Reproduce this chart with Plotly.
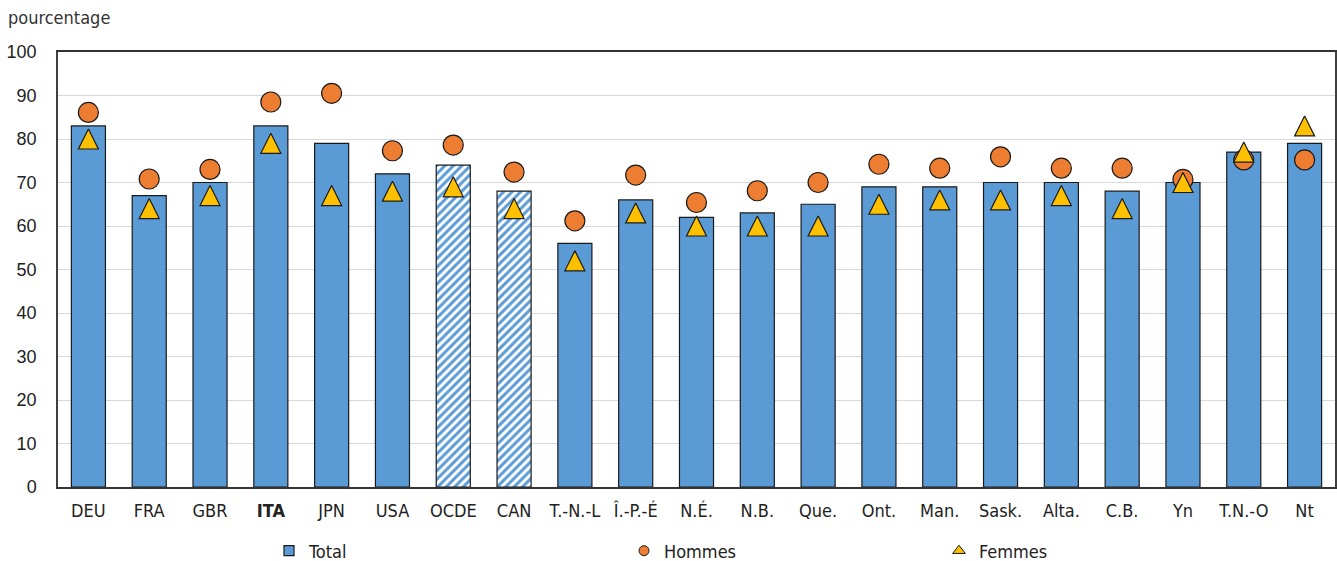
import plotly.graph_objects as go

# ---------------- data ----------------
categories = ["DEU", "FRA", "GBR", "ITA", "JPN", "USA", "OCDE", "CAN", "T.-N.-L", "Î.-P.-É",
              "N.É.", "N.B.", "Que.", "Ont.", "Man.", "Sask.", "Alta.", "C.B.", "Yn", "T.N.-O", "Nt"]
total = [83, 67, 70, 83, 79, 72, 74, 68, 56, 66, 62, 63, 65, 69, 69, 70, 70, 68, 70, 77, 79]
hommes = [86.1, 70.8, 73.0, 88.5, 90.5, 77.3, 78.6, 72.4, 61.2, 71.7, 65.4, 68.1, 70.0,
          74.2, 73.3, 75.9, 73.3, 73.3, 70.7, 75.2, 75.2]
femmes = [80, 64, 67, 79, 67, 68, 69, 64, 52, 63, 60, 60, 60, 65, 66, 66, 67, 64, 70, 77, 83]
hatched_categories = ["OCDE", "CAN"]
bold_categories = ["ITA"]
y_tick_values = [0, 10, 20, 30, 40, 50, 60, 70, 80, 90, 100]
series_names = ["Total", "Hommes", "Femmes"]
y_title = "pourcentage"

# ---------------- style ----------------
BLUE = "#5B9BD5"
ORANGE = "#ED7D31"
GOLD = "#FFC000"
EDGE = "#1a1a1a"
NARROW = "Liberation Sans Narrow, DejaVu Sans Condensed, Arial Narrow, sans-serif"
REGULAR = "Liberation Sans, Arial, sans-serif"

W, H = 1337, 561
M_L, M_R, M_T, M_B = 58, 2, 52, 74
plot_h = H - M_T - M_B
px_per_unit = plot_h / 100.0
tri_size = 20
tri_shift = (tri_size / 2) / px_per_unit  # centre the arrow-shaped triangle on its value

n = len(categories)
plain_x = [c for c in categories if c not in hatched_categories]
plain_y = [v for c, v in zip(categories, total) if c not in hatched_categories]
hatch_x = [c for c in categories if c in hatched_categories]
hatch_y = [v for c, v in zip(categories, total) if c in hatched_categories]
tick_text = [f"<b>{c}</b>" if c in bold_categories else c for c in categories]

fig = go.Figure()

fig.add_trace(go.Bar(
    x=plain_x, y=plain_y, name=series_names[0], showlegend=False,
    marker=dict(color=BLUE, line=dict(color=EDGE, width=1.2)),
))
fig.add_trace(go.Bar(
    x=hatch_x, y=hatch_y, name=series_names[0], showlegend=False,
    marker=dict(color=BLUE, line=dict(color=EDGE, width=1.2),
                pattern=dict(shape="/", fgcolor=BLUE, bgcolor="white",
                             fillmode="replace", size=6, solidity=0.5)),
))
fig.add_trace(go.Scatter(
    x=categories, y=hommes, mode="markers", name=series_names[1], showlegend=False,
    marker=dict(symbol="circle", size=20, color=ORANGE, line=dict(color=EDGE, width=1.2)),
))
fig.add_trace(go.Scatter(
    x=categories, y=femmes, mode="markers", name=series_names[2], showlegend=False,
    yaxis="y2",
    marker=dict(symbol="arrow-up", size=tri_size, color=GOLD, line=dict(color=EDGE, width=1.2)),
))

# legend entries (no data drawn)
fig.add_trace(go.Scatter(x=[categories[0]], y=[None], mode="markers", name=series_names[0],
                         legend="legend",
                         marker=dict(symbol="square", size=10, color=BLUE, line=dict(color=EDGE, width=1.2))))
fig.add_trace(go.Scatter(x=[categories[0]], y=[None], mode="markers", name=series_names[1],
                         legend="legend2",
                         marker=dict(symbol="circle", size=10, color=ORANGE, line=dict(color=EDGE, width=1))))
fig.add_trace(go.Scatter(x=[categories[0]], y=[None], mode="markers", name=series_names[2],
                         legend="legend3",
                         marker=dict(symbol="triangle-up", size=11, color=GOLD, line=dict(color=EDGE, width=1))))

leg_common = dict(orientation="h", yref="container", y=1 - 551 / H, yanchor="middle",
                  xref="container", xanchor="left",
                  font=dict(family=NARROW, size=18, color="#222"), bgcolor="rgba(0,0,0,0)",
                  itemwidth=30)

fig.update_layout(
    width=W, height=H,
    margin=dict(l=M_L, r=M_R, t=M_T, b=M_B, autoexpand=False),
    paper_bgcolor="white", plot_bgcolor="white",
    barmode="overlay", bargap=0.44,
    title=dict(text=y_title, x=8 / W, xanchor="left", xref="container",
               y=1 - 18 / H, yanchor="middle", yref="container",
               font=dict(family=NARROW, size=18, color="#333")),
    legend=dict(x=(309 - 40) / W, **leg_common),
    legend2=dict(x=(664 - 40) / W, **leg_common),
    legend3=dict(x=(979 - 40) / W, **leg_common),
    xaxis=dict(type="category", categoryorder="array", categoryarray=categories,
               range=[-0.5, n - 0.5],
               tickvals=categories, ticktext=tick_text,
               showline=True, linecolor="#333", linewidth=1.5, mirror=True,
               ticks="", ticklabelstandoff=7,
               tickfont=dict(family=NARROW, size=18, color="#222")),
    yaxis=dict(range=[0, 100], tickvals=y_tick_values, showgrid=True, gridcolor="#d9d9d9",
               gridwidth=1, showline=True, linecolor="#404040", linewidth=1.5, mirror=True,
               ticks="", ticklabelstandoff=16, zeroline=False,
               tickfont=dict(family=REGULAR, size=18, color="#222")),
    yaxis2=dict(range=[0 - tri_shift, 100 - tri_shift], overlaying="y", visible=False),
)

fig.write_html("out.html", config={"displayModeBar": False},
               post_script="document.body.style.margin='0';")
